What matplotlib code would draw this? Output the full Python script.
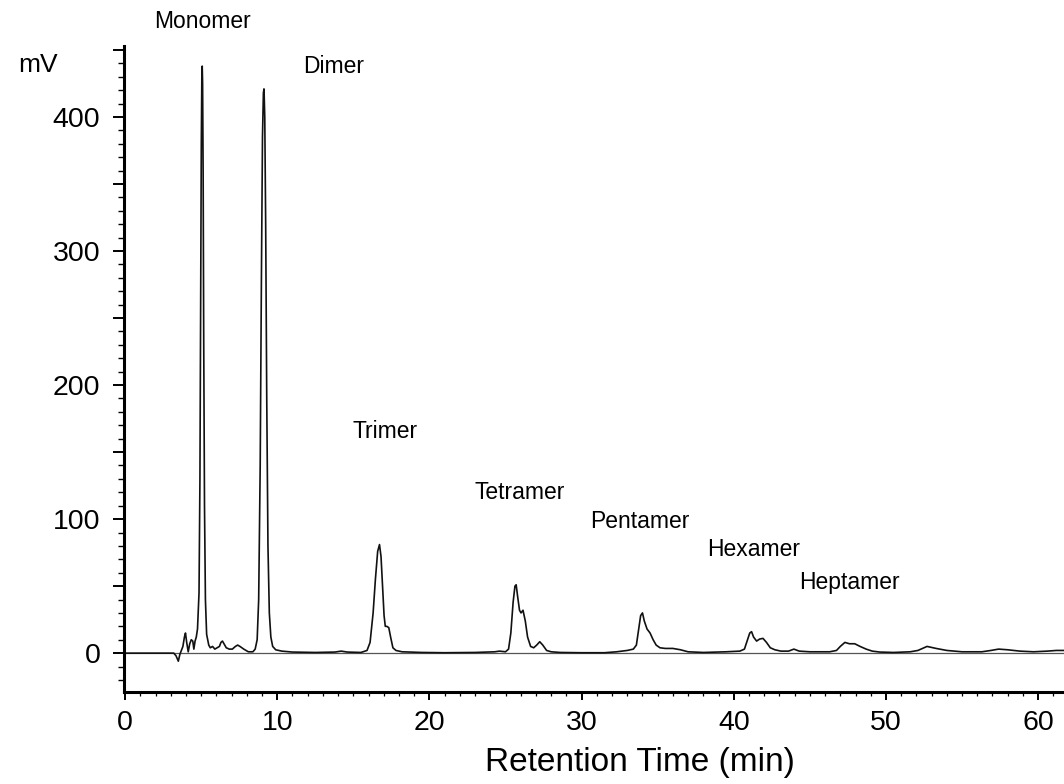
import matplotlib
matplotlib.use("Agg")
import matplotlib.pyplot as plt
from matplotlib.ticker import MultipleLocator, FuncFormatter

plt.rcParams['font.family'] = ['Liberation Sans', 'DejaVu Sans']

# ---- data (time in min, signal in mV) ----
time_min = [
    0.0, 3.2, 3.35, 3.5, 3.6, 3.7, 3.8, 3.9, 3.97, 4.05, 4.15, 4.25, 4.35, 4.45, 4.52, 4.6, 4.68, 4.76,
    4.86, 4.92, 4.97, 5.01, 5.045, 5.07, 5.095, 5.13, 5.17, 5.22, 5.28, 5.36,
    5.5, 5.6, 5.75, 5.9, 6.05, 6.2, 6.3, 6.4, 6.5, 6.65, 6.85, 7.05, 7.25, 7.4, 7.55, 7.8, 8.1, 8.4, 8.55,
    8.68, 8.78, 8.88, 8.96, 9.03, 9.09, 9.13, 9.18, 9.24, 9.31, 9.39, 9.48, 9.58, 9.7, 9.9,
    10.3, 11.0, 12.5, 13.8, 14.2, 14.6, 15.5, 15.9,
    16.1, 16.3, 16.45, 16.6, 16.72, 16.82, 16.92, 17.02, 17.1, 17.2, 17.33, 17.45, 17.6, 17.8, 18.2,
    19.5, 21.0, 23.0, 24.3, 24.6, 25.0,
    25.2, 25.35, 25.5, 25.62, 25.7, 25.8, 25.92, 26.02, 26.15, 26.3, 26.45, 26.65, 26.85, 27.05, 27.25, 27.45, 27.7, 28.0,
    28.6, 30.0, 31.5, 32.3, 33.0, 33.4,
    33.6, 33.75, 33.88, 34.0, 34.12, 34.3, 34.5, 34.7, 34.9, 35.15, 35.5, 36.0, 36.5, 37.0,
    38.0, 39.5, 40.4,
    40.7, 40.9, 41.05, 41.17, 41.3, 41.5, 41.7, 41.92, 42.15, 42.4, 42.7, 43.1, 43.6, 43.95, 44.3, 45.0,
    46.3, 46.75, 47.0, 47.3, 47.6, 47.95, 48.3, 48.7, 49.1, 49.6, 50.5,
    51.6, 52.1, 52.7, 53.3, 54.0, 55.0, 56.3, 56.9, 57.4, 58.0, 58.8, 59.7, 60.6, 61.2, 61.7,
]
signal_mv = [
    0, 0, -2, -6, -1, 2, 5, 12, 15, 8, 1, 7, 10, 9, 3, 9, 12, 18,
    45, 130, 260, 380, 430, 438, 425, 360, 230, 110, 40, 14,
    6, 4, 5, 3, 4, 5, 8, 9, 7, 4, 3, 3, 5, 6, 5, 3, 1, 1, 3,
    10, 40, 140, 280, 385, 418, 421, 400, 320, 190, 80, 30, 12, 5, 2.5,
    1.5, 0.8, 0.5, 0.8, 1.5, 0.8, 0.5, 2,
    8, 30, 55, 76, 81, 72, 50, 28, 20, 20, 19, 12, 4, 2, 1,
    0.5, 0.3, 0.5, 1, 1.5, 1,
    3, 15, 38, 50, 51, 42, 32, 30, 32, 24, 12, 5, 4, 6, 8.5, 6, 2, 1,
    0.5, 0.3, 0.3, 1, 2, 3,
    6, 18, 28, 30, 24, 18, 15, 10, 6, 4, 3.5, 3.5, 2.5, 1,
    0.5, 1, 1.5,
    3, 10, 15, 16, 12, 9, 10.5, 11, 8, 4, 2.5, 1.5, 1.5, 3, 1.5, 1,
    1, 2, 5, 8, 7, 7, 5, 3, 1.5, 0.8, 0.5,
    1, 2, 5, 3.5, 2, 1, 1, 2, 3, 2.5, 1.5, 1, 1.5, 2, 2,
]
assert len(time_min) == len(signal_mv)

peak_names = ["Monomer", "Dimer", "Trimer", "Tetramer", "Pentamer", "Hexamer", "Heptamer"]
label_x = [5.1, 13.7, 17.1, 25.9, 33.8, 41.3, 47.6]
label_y = [471, 438, 165, 120, 98, 77, 53]

# ---- figure ----
fig = plt.figure(figsize=(10.64, 7.84), dpi=100)
ax = fig.add_axes([124 / 1064, 92 / 784, 940 / 1064, 646 / 784])

ax.axhline(0, color="#555555", lw=0.9, zorder=1)
ax.plot(time_min, signal_mv, color="#111111", lw=1.2, zorder=2)

ax.set_xlim(-0.07, 61.7)
ax.set_ylim(-29, 453)

for sp in ["top", "right"]:
    ax.spines[sp].set_visible(False)
for sp in ["left", "bottom"]:
    ax.spines[sp].set_linewidth(2.2)

ax.yaxis.set_major_locator(MultipleLocator(50))
ax.yaxis.set_minor_locator(MultipleLocator(10))
ax.yaxis.set_major_formatter(FuncFormatter(lambda v, p: f"{int(v)}" if v % 100 == 0 else ""))
ax.xaxis.set_major_locator(MultipleLocator(10))
ax.xaxis.set_minor_locator(MultipleLocator(1))

ax.tick_params(axis="y", which="major", length=8, width=1.4, labelsize=20.5, pad=9)
ax.tick_params(axis="y", which="minor", length=4, width=1.0)
ax.tick_params(axis="x", which="major", length=6, width=1.4, labelsize=20.5, pad=7)
ax.tick_params(axis="x", which="minor", length=3, width=0.9)

for name, x, y in zip(peak_names, label_x, label_y):
    ax.text(x, y, name, ha="center", va="center", fontsize=16.5, clip_on=False)

fig.text(38 / 1064, 1 - 65 / 784, "mV", ha="center", va="center", fontsize=19)
fig.text(640 / 1064, 1 - 763 / 784, "Retention Time (min)", ha="center", va="center", fontsize=24)

fig.savefig("out.png", dpi=100)
